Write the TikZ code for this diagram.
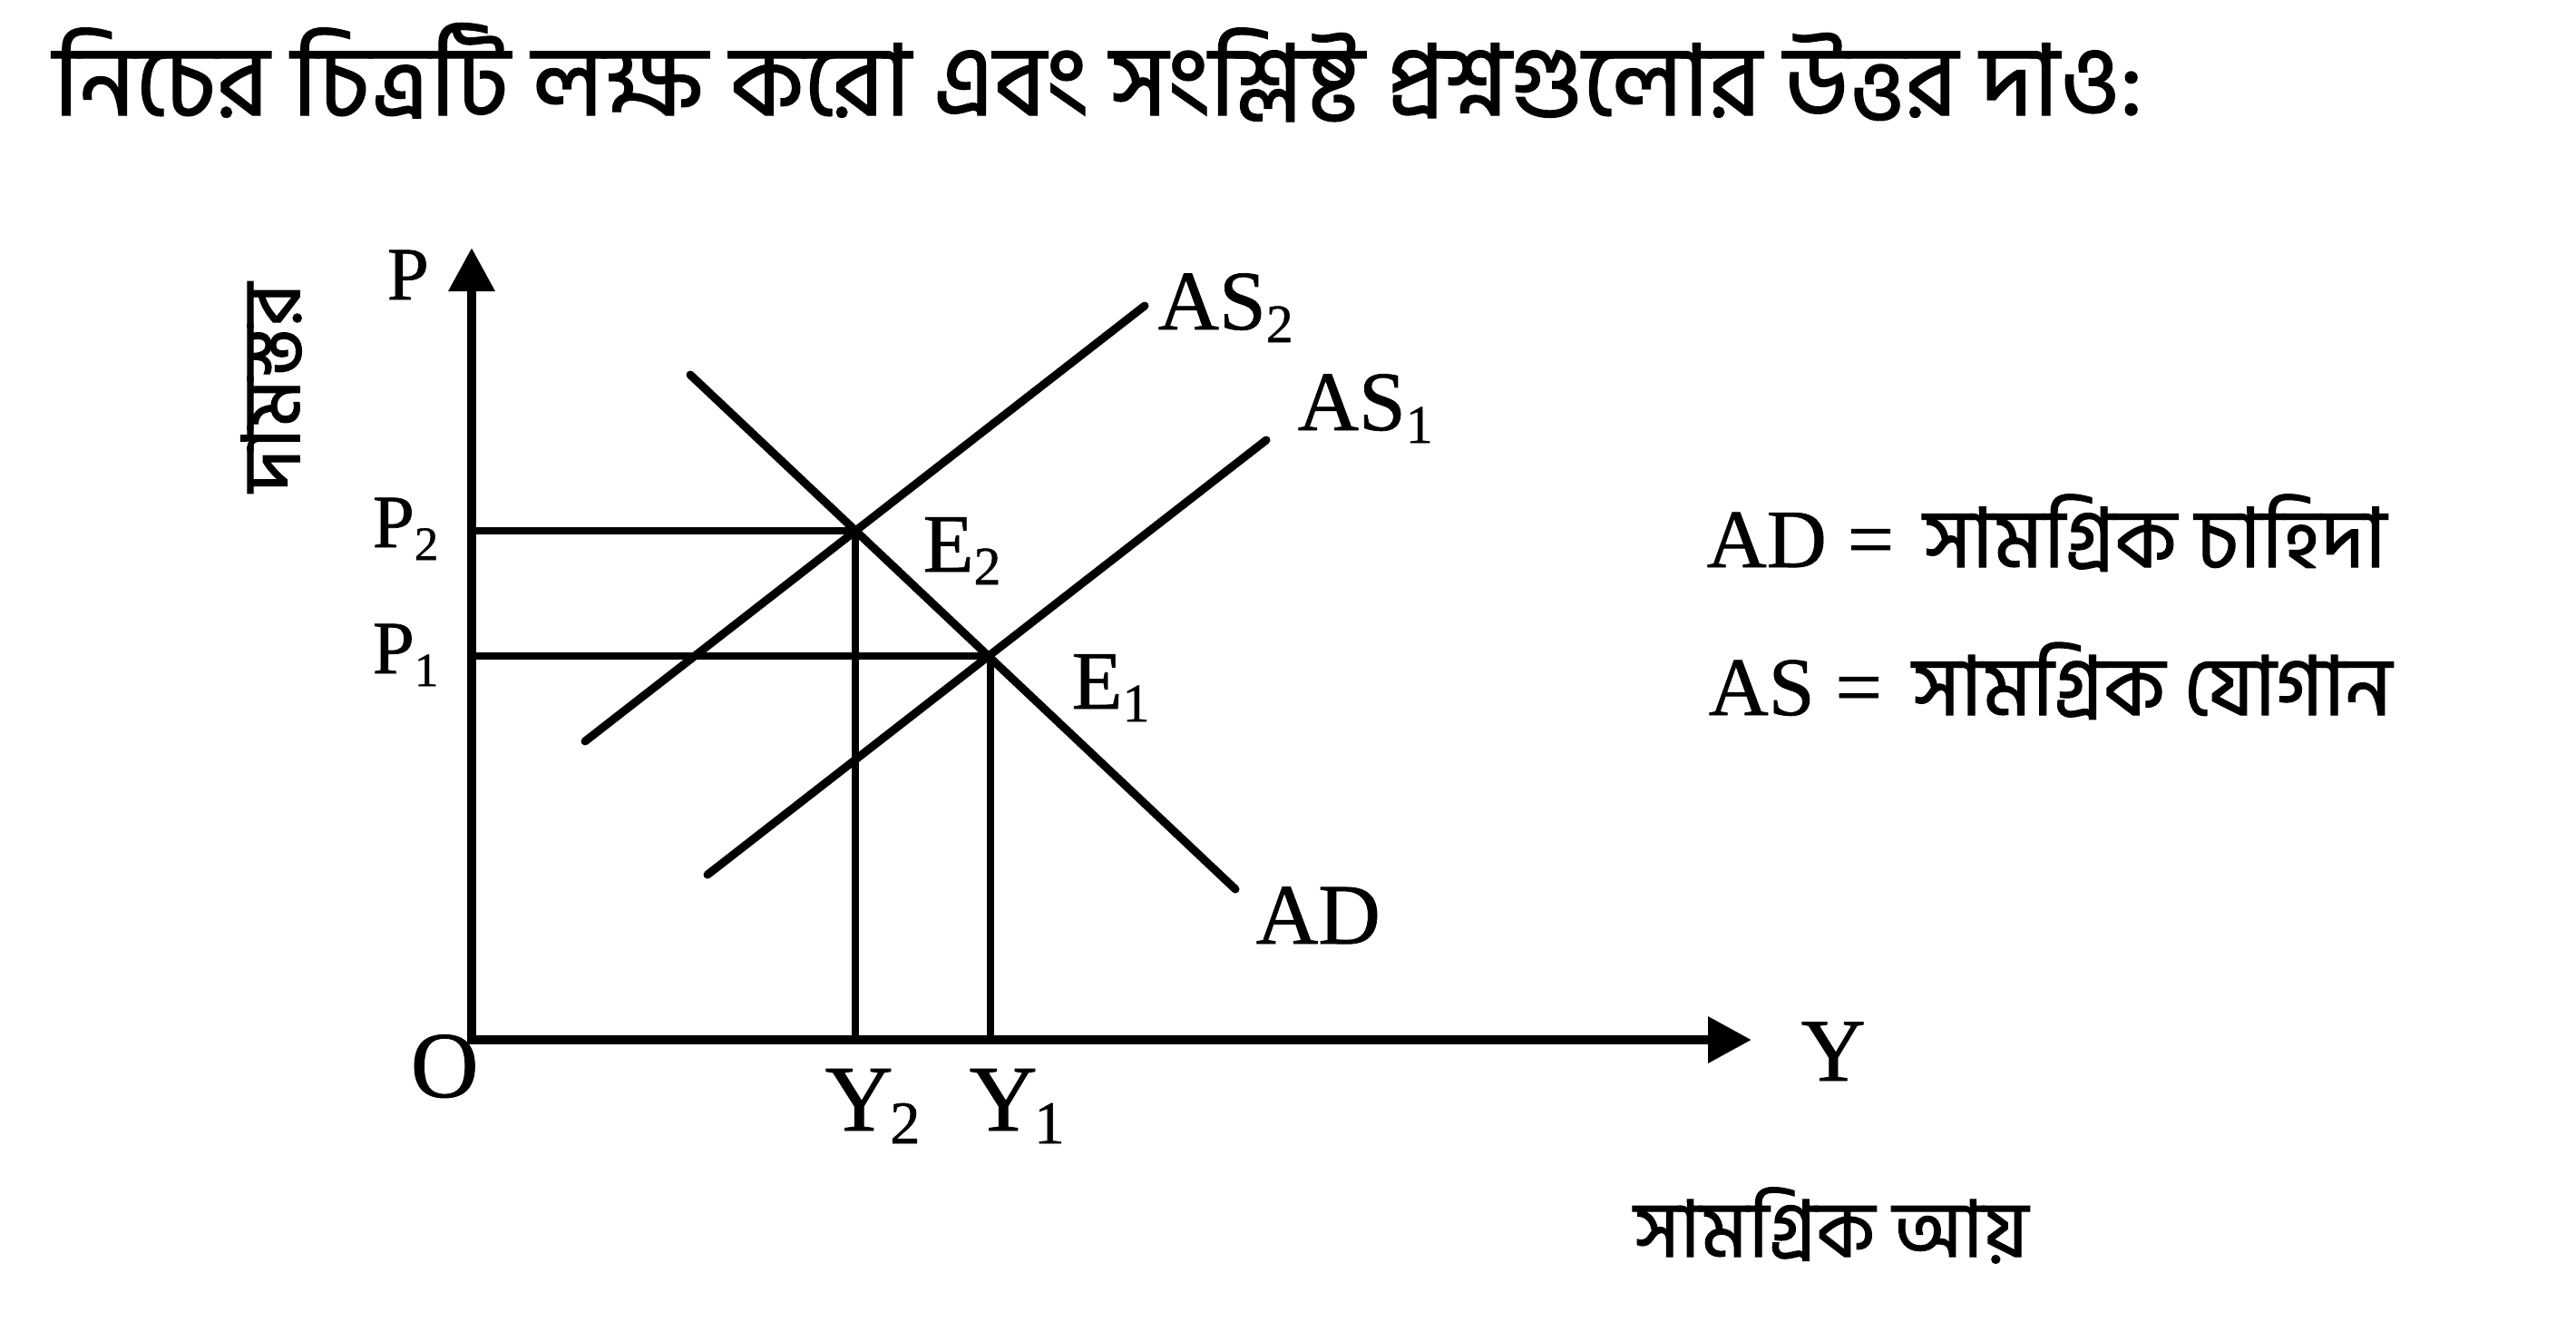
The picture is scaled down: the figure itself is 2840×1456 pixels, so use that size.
\documentclass[tikz,border=0pt]{standalone}
\usepackage{fontspec}
\setmainfont{Liberation Serif}[FakeBold=0.8]
\newfontfamily\bn[Script=Bengali,FakeBold=1.2]{Hind Siliguri}
\usetikzlibrary{arrows.meta}
\newcommand\lo[2]{\raisebox{-4pt}{\fontsize{#1}{#1}\selectfont #2}}
\begin{document}
\begin{tikzpicture}[x=0.01cm,y=-0.01cm,
  axisline/.style={line width=0.1cm,line join=miter,
    {Triangle[length=0.48cm,width=0.49cm]}-{Triangle[length=0.48cm,width=0.49cm]}},
  curve/.style={line width=0.09cm,line cap=round},
  guide/.style={line width=0.085cm},
  lab/.style={inner sep=0pt,anchor=base west},
  plab/.style={lab,font=\fontsize{23.6}{24}\selectfont},
  clab/.style={lab,font=\fontsize{26.5}{27}\selectfont},
  ylab/.style={lab,font=\fontsize{29.5}{30}\selectfont},
  btxt/.style={inner sep=0pt,anchor=base west}]
\useasboundingbox (0,0) rectangle (2840,1456);
\fill[white] (0,0) rectangle (2840,1456);

% title
\node[btxt] (title) at (58,127) {\resizebox{23.02cm}{!}{\bn নিচের চিত্রটি লক্ষ করো এবং সংশ্লিষ্ট প্রশ্নগুলোর উত্তর দাও:}};

% coordinates
\coordinate (O) at (520,1146);
\coordinate (Ptip) at (520,273);
\coordinate (Ytip) at (1931,1146);
\coordinate (E2) at (943,585);
\coordinate (E1) at (1092,723);
\coordinate (P2) at (520,585);
\coordinate (P1) at (520,723);
\coordinate (Y2) at (943,1146);
\coordinate (Y1) at (1092,1146);
\coordinate (AS2a) at (645,817);
\coordinate (AS2b) at (1262,337);
\coordinate (AS1a) at (780,964);
\coordinate (AS1b) at (1396,485);
\coordinate (ADa) at (761,413);
\coordinate (ADb) at (1362,980);

% guides
\draw[guide] (P2) -- (E2) -- (Y2);
\draw[guide] (P1) -- (E1) -- (Y1);
% curves
\draw[curve] (AS2a) -- (AS2b);
\draw[curve] (AS1a) -- (AS1b);
\draw[curve] (ADa) -- (ADb);
% axes
\draw[axisline] (Ptip) -- (O) -- (Ytip);

% labels
\node[plab] (lP) at (426,330) {P};
\node[plab] (lP2) at (410,603) {P\lo{15}{2}};
\node[plab] (lP1) at (410,742) {P\lo{15}{1}};
\node[ylab] (lO) at (452,1209) {O};
\node[ylab] (lY2) at (909,1246) {Y\kern-1pt\lo{19}{2}};
\node[ylab] (lY1) at (1068,1246) {Y\kern-1pt\lo{19}{1}};
\node[lab,font=\fontsize{28}{28}\selectfont] (lY) at (1985,1191) {Y};
\node[clab] (lAS2) at (1276,363) {AS\lo{17}{2}};
\node[clab] (lAS1) at (1430,474) {AS\lo{17}{1}};
\node[lab,font=\fontsize{26}{26}\selectfont] (lE2) at (1017,630) {E\lo{17}{2}};
\node[lab,font=\fontsize{26}{26}\selectfont] (lE1) at (1181,781) {E\lo{17}{1}};
\node[lab,font=\fontsize{27}{27}\selectfont] (lAD) at (1384,1040) {AD};

% axis name labels
\node[inner sep=0pt,rotate=90] (ylabel) at (299,427) {\resizebox{2.30cm}{!}{\bn দামস্তর}};
\node[btxt] (xlabel) at (1801,1385) {\resizebox{4.34cm}{!}{\bn সামগ্রিক আয়}};

% legend
\node[lab,font=\fontsize{26}{26}\selectfont] (legAD) at (1881,625) {AD =};
\node[btxt] (legADb) at (2120,625) {\resizebox{5.10cm}{!}{\bn সামগ্রিক চাহিদা}};
\node[lab,font=\fontsize{26}{26}\selectfont] (legAS) at (1883,788) {AS =};
\node[btxt] (legASb) at (2108,788) {\resizebox{5.28cm}{!}{\bn সামগ্রিক যোগান}};
\end{tikzpicture}
\end{document}
